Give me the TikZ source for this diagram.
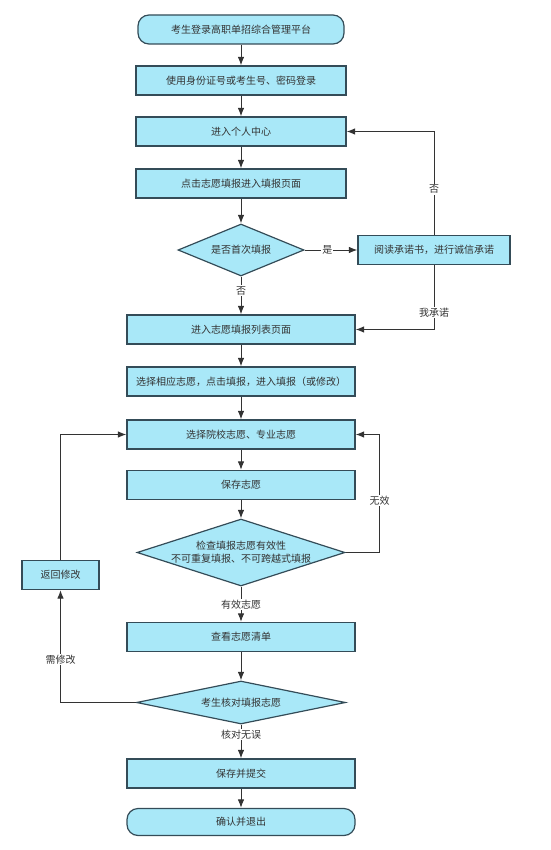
\documentclass[tikz,border=0pt]{standalone}
\usepackage{fontspec}
\setmainfont{Noto Sans CJK SC}
\usetikzlibrary{shapes.geometric,arrows.meta}
\definecolor{boxfill}{HTML}{A9E8F8}
\definecolor{boxline}{HTML}{344C58}
\definecolor{txt}{HTML}{333333}
\def\colX{241}
\def\boxH{29}

\begin{document}
\begin{tikzpicture}[x=1pt,y=-1pt,
	every node/.style={font=\fontsize{10}{13}\selectfont, text=txt},
	process/.style={draw=boxline, fill=boxfill, line width=1.2pt, minimum width=228pt, minimum height=\boxH pt, inner sep=0pt},
	terminal/.style={process, rounded corners=11pt},
	decision/.style={draw=boxline, fill=boxfill, line width=1.2pt, shape=diamond, inner sep=0pt},
	flow/.style={draw=txt, line width=1pt, -{Latex[length=8.5pt,width=6.5pt]}},
	tag/.style={fill=white, inner sep=1pt}
]
	\useasboundingbox (0,0) rectangle (550,850);

	%upper column: login and first entry
	\node[terminal, minimum width=206pt] (login) at (\colX,29.5) {考生登录高职单招综合管理平台};
	\node[process, minimum width=210pt] (account) at (\colX,80.5) {使用身份证号或考生号、密码登录};
	\node[process, minimum width=210pt] (center) at (\colX,131.5) {进入个人中心};
	\node[process, minimum width=210pt] (entry) at (\colX,183.5) {点击志愿填报进入填报页面};
	\node[decision, aspect=2.4, minimum width=126pt, minimum height=52pt] (first) at (\colX,250) {是否首次填报};
	\node[process, minimum width=152pt] (promise) at (434,250) {阅读承诺书，进行诚信承诺};

	%lower column: filling in the choices
	\node[process] (list) at (\colX,329.5) {进入志愿填报列表页面};
	\node[process] (pick) at (\colX,381.5) {选择相应志愿，点击填报，进入填报（或修改）};
	\node[process] (select) at (\colX,434.5) {选择院校志愿、专业志愿};
	\node[process] (save) at (\colX,485) {保存志愿};
	\node[decision, aspect=3.1, minimum width=208pt, minimum height=67pt,
		label={[align=center, text=txt]center:检查填报志愿有效性\\不可重复填报、不可跨越式填报}] (check) at (\colX,552.5) {};
	\node[process, minimum width=77pt] (revise) at (60.5,575) {返回修改};
	\node[process] (overview) at (\colX,637) {查看志愿清单};
	\node[decision, aspect=4.8, minimum width=209pt, minimum height=43pt] (verify) at (\colX,702.5) {考生核对填报志愿};
	\node[process] (submit) at (\colX,773.5) {保存并提交};
	\node[terminal, minimum height=27pt] (finish) at (\colX,822) {确认并退出};

	%straight flow
	\draw[flow] (login) -- (account);
	\draw[flow] (account) -- (center);
	\draw[flow] (center) -- (entry);
	\draw[flow] (entry) -- (first);
	\draw[flow] (list) -- (pick);
	\draw[flow] (pick) -- (select);
	\draw[flow] (select) -- (save);
	\draw[flow] (save) -- (check);
	\draw[flow] (overview) -- (verify);
	\draw[flow] (submit) -- (finish);

	%branches
	\draw[flow] (first) -- node[tag, pos=0.43] {是} (promise);
	\draw[flow] (first) -- node[tag, pos=0.37] {否} (list);
	\draw[flow] (promise.north) |- node[tag, pos=0.22] {否} (center.east);
	\draw[flow] (promise.south) |- node[tag, pos=0.37] {我承诺} (list.east);
	\draw[flow] (check.east) -- ++(34,0) |- node[tag, pos=0.22] {无效} (select.east);
	\draw[flow] (check) -- node[tag] {有效志愿} (overview);
	\draw[flow] (revise.north) |- (select.west);
	\draw[flow] (verify.west) -| node[tag, pos=0.69] {需修改} (revise.south);
	\draw[flow] (verify) -- node[tag, pos=0.3] {核对无误} (submit);

\end{tikzpicture}
\end{document}
